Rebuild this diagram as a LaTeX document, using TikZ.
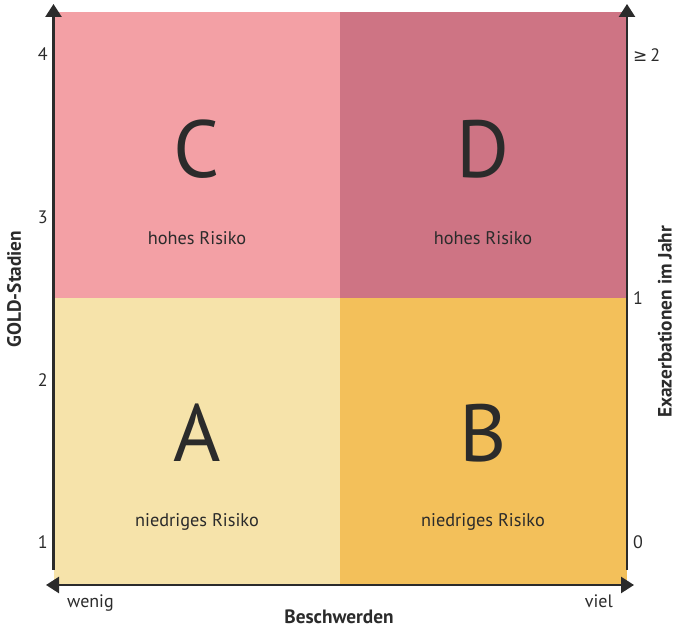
\documentclass[tikz,border=0pt]{standalone}
\usepackage{fontspec}
\setmainfont{PT Sans}
\newfontfamily\symfont{DejaVu Sans}
\usetikzlibrary{arrows.meta}
\definecolor{cpink}{HTML}{F3A0A5}
\definecolor{dred}{HTML}{CE7484}
\definecolor{ayel}{HTML}{F6E3AA}
\definecolor{borange}{HTML}{F3C05A}
\definecolor{ink}{HTML}{2B2B2B}
\tikzset{
  axis/.style={draw=ink, line width=2.5pt, -{Triangle[length=13pt,width=16pt]}},
  dblaxis/.style={draw=ink, line width=2.5pt, {Triangle[length=13pt,width=16pt]}-{Triangle[length=13pt,width=16pt]}},
  quad/.style={draw=none, inner sep=0pt, minimum width=286pt, minimum height=287pt, anchor=south west},
  bigletter/.style={text=ink, font=\fontsize{81}{81}\selectfont, anchor=base, inner sep=0pt},
  risk/.style={text=ink, font=\fontsize{18.3}{20}\selectfont, anchor=base, inner sep=0pt},
  tick/.style={text=ink, font=\fontsize{18}{20}\selectfont, inner sep=0pt},
  title/.style={text=ink, font=\bfseries\fontsize{19.3}{22}\selectfont, inner sep=0pt}
}
\begin{document}
\begin{tikzpicture}[x=1pt,y=1pt]
\useasboundingbox (0,0) rectangle (680,628);
% quadrants
\node[quad, fill=ayel] (qa) at (54,43) {};
\node[quad, fill=borange, minimum width=287pt] (qb) at (340,43) {};
\node[quad, fill=cpink, minimum height=286pt] (qc) at (54,330) {};
\node[quad, fill=dred, minimum width=287pt, minimum height=286pt] (qd) at (340,330) {};
% letters
\node[bigletter] (lc) at (197,450) {C};
\node[bigletter] (ld) at (483,450) {D};
\node[bigletter] (la) at (197,166) {A};
\node[bigletter] (lb) at (483,166) {B};
\node[risk] (rc) at (197,383) {hohes Risiko};
\node[risk] (rd) at (483,383) {hohes Risiko};
\node[risk] (ra) at (197,101) {niedriges Risiko};
\node[risk] (rb) at (483,101) {niedriges Risiko};
% axes
\coordinate (lbot) at (53.5,58);
\coordinate (ltop) at (53.5,624);
\coordinate (rbot) at (627,58);
\coordinate (rtop) at (627,624);
\coordinate (hl) at (46,43);
\coordinate (hr) at (634,43);
\draw[axis] (lbot) -- (ltop);
\draw[axis] (rbot) -- (rtop);
\draw[dblaxis] (hl) -- (hr);
% left ticks
\node[tick, anchor=east] (t4) at (48,574) {4};
\node[tick, anchor=east] (t3) at (48,411) {3};
\node[tick, anchor=east] (t2) at (48,248) {2};
\node[tick, anchor=east] (t1) at (48,86) {1};
% right ticks
\node[tick, anchor=west] (e2) at (633,573) {{\symfont\fontsize{17}{20}\selectfont ≥}\,2};
\node[tick, anchor=west] (e1) at (633,330) {1};
\node[tick, anchor=west] (e0) at (633,86) {0};
% axis words
\node[tick, anchor=base west] (wenig) at (67,20) {wenig};
\node[tick, anchor=base east] (viel) at (613,20) {viel};
\node[title, anchor=base] (besch) at (339,4) {Beschwerden};
\node[title, rotate=90] (gold) at (14,339) {GOLD-Stadien};
\node[title, rotate=90] (exa) at (665,306) {Exazerbationen im Jahr};
\end{tikzpicture}
\end{document}
